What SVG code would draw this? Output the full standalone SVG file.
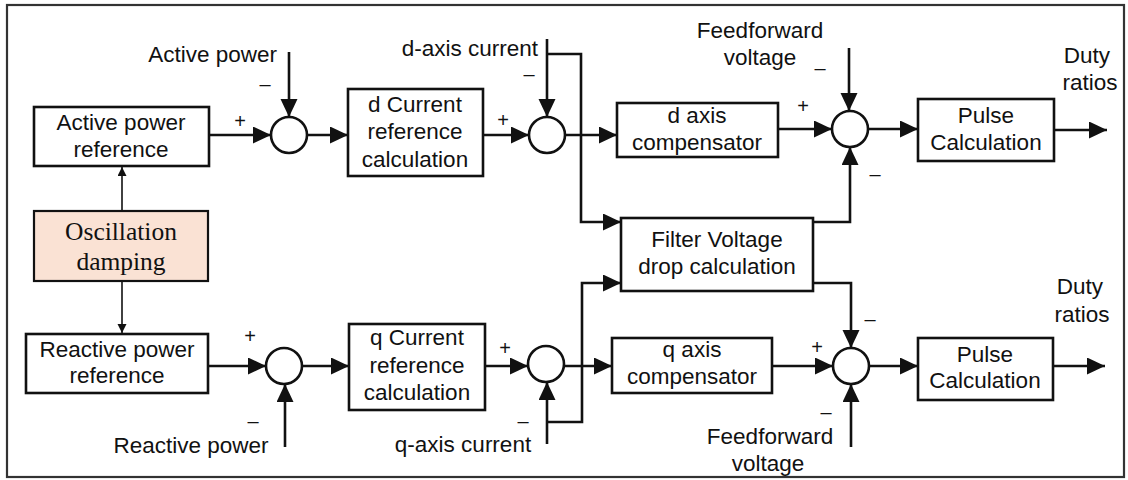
<svg xmlns="http://www.w3.org/2000/svg" width="1128" height="480" viewBox="0 0 1128 480">
<defs>
<style>
text{font-family:"Liberation Sans",Arial,sans-serif;font-size:22.5px;fill:#111;text-anchor:middle}
.ser{font-family:"Liberation Serif","Times New Roman",serif;font-size:25.5px}
.lbl{text-anchor:end}
.sg{font-size:20px}
.box{fill:#fff;stroke:#111;stroke-width:2.6}
.sum{fill:#fff;stroke:#111;stroke-width:2.6}
.w{fill:none;stroke:#111;stroke-width:2.6}
.t{fill:none;stroke:#111;stroke-width:1.6}
</style>
<marker id="ah" markerUnits="userSpaceOnUse" markerWidth="19" markerHeight="18" refX="18" refY="8.5" orient="auto"><path d="M0,0 L18,8.5 L0,17 z" fill="#111"/></marker>
<marker id="as" markerUnits="userSpaceOnUse" markerWidth="10" markerHeight="10" refX="9" refY="4.5" orient="auto"><path d="M0,0 L9,4.5 L0,9 z" fill="#111"/></marker>
</defs>
<rect x="7" y="5" width="1117" height="472" fill="#fff" stroke="#333" stroke-width="2.2"/>

<g id="connectors">
<line class="w" x1="209" y1="135" x2="271" y2="135" marker-end="url(#ah)"/>
<line class="w" x1="289" y1="52" x2="289" y2="117" marker-end="url(#ah)"/>
<line class="w" x1="307" y1="135" x2="348" y2="135" marker-end="url(#ah)"/>
<line class="w" x1="483" y1="135" x2="529" y2="135" marker-end="url(#ah)"/>
<line class="w" x1="547" y1="39" x2="547" y2="117" marker-end="url(#ah)"/>
<polyline class="w" points="547,54 581,54 581,222 621,222" marker-end="url(#ah)"/>
<line class="w" x1="565" y1="135" x2="617" y2="135" marker-end="url(#ah)"/>
<line class="w" x1="778" y1="129" x2="832" y2="129" marker-end="url(#ah)"/>
<line class="w" x1="849" y1="48" x2="849" y2="111" marker-end="url(#ah)"/>
<polyline class="w" points="813,222 850,222 850,147" marker-end="url(#ah)"/>
<line class="w" x1="868" y1="129" x2="918" y2="129" marker-end="url(#ah)"/>
<line class="w" x1="1054" y1="130" x2="1107" y2="130" marker-end="url(#ah)"/>
<line class="t" x1="122" y1="211" x2="122" y2="167" marker-end="url(#as)"/>
<line class="t" x1="122" y1="281" x2="122" y2="333" marker-end="url(#as)"/>
<line class="w" x1="208" y1="366" x2="266" y2="366" marker-end="url(#ah)"/>
<line class="w" x1="285" y1="447" x2="285" y2="384" marker-end="url(#ah)"/>
<line class="w" x1="302" y1="366" x2="349" y2="366" marker-end="url(#ah)"/>
<line class="w" x1="485" y1="366" x2="528" y2="366" marker-end="url(#ah)"/>
<line class="w" x1="547" y1="444" x2="547" y2="382" marker-end="url(#ah)"/>
<polyline class="w" points="547,422 582,422 582,283 621,283" marker-end="url(#ah)"/>
<line class="w" x1="564" y1="366" x2="612" y2="366" marker-end="url(#ah)"/>
<line class="w" x1="772" y1="366" x2="833" y2="366" marker-end="url(#ah)"/>
<polyline class="w" points="813,283 851,283 851,348" marker-end="url(#ah)"/>
<line class="w" x1="851" y1="447" x2="851" y2="384" marker-end="url(#ah)"/>
<line class="w" x1="869" y1="366" x2="918" y2="366" marker-end="url(#ah)"/>
<line class="w" x1="1053" y1="366" x2="1105" y2="366" marker-end="url(#ah)"/>
</g>

<g id="active-ref"><rect class="box" x="34" y="107" width="175" height="59"/><text x="121" y="130">Active power</text><text x="121" y="157">reference</text></g>
<g id="osc"><rect x="34" y="211" width="174" height="70" fill="#fae2d4" stroke="#111" stroke-width="2.2"/><text class="ser" x="121" y="240">Oscillation</text><text class="ser" x="121" y="270">damping</text></g>
<g id="reactive-ref"><rect class="box" x="26" y="334" width="182" height="59"/><text x="117" y="357">Reactive power</text><text x="117" y="383">reference</text></g>

<g id="sum-p"><circle class="sum" cx="289" cy="135" r="18"/><text class="sg" x="240" y="128">+</text><text class="sg" x="265" y="91">–</text></g>
<g id="sum-q"><circle class="sum" cx="284" cy="366" r="18"/><text class="sg" x="250" y="343">+</text><text class="sg" x="253" y="428">–</text></g>

<g id="d-cur"><rect class="box" x="348" y="89" width="135" height="87"/><text x="415" y="112">d Current</text><text x="415" y="139">reference</text><text x="415" y="167">calculation</text></g>
<g id="q-cur"><rect class="box" x="349" y="324" width="136" height="86"/><text x="417" y="345">q Current</text><text x="417" y="373">reference</text><text x="417" y="400">calculation</text></g>

<g id="sum-d"><circle class="sum" cx="547" cy="135" r="18"/><text class="sg" x="503" y="127">+</text><text class="sg" x="529" y="81">–</text></g>
<g id="sum-qi"><circle class="sum" cx="546" cy="364" r="18"/><text class="sg" x="505" y="355">+</text><text class="sg" x="523" y="428">–</text></g>

<g id="d-comp"><rect class="box" x="617" y="103" width="161" height="54"/><text x="697" y="123">d axis</text><text x="697" y="150">compensator</text></g>
<g id="q-comp"><rect class="box" x="612" y="338" width="160" height="55"/><text x="692" y="357">q axis</text><text x="692" y="384">compensator</text></g>
<g id="filter"><rect class="box" x="621" y="218" width="192" height="73"/><text x="717" y="247">Filter Voltage</text><text x="717" y="274">drop calculation</text></g>

<g id="sum-vd"><circle class="sum" cx="850" cy="129" r="18"/><text class="sg" x="803" y="113">+</text><text class="sg" x="820" y="75">–</text><text class="sg" x="875" y="181">–</text></g>
<g id="sum-vq"><circle class="sum" cx="851" cy="366" r="18"/><text class="sg" x="817" y="354">+</text><text class="sg" x="870" y="326">–</text><text class="sg" x="826" y="419">–</text></g>

<g id="pulse-d"><rect class="box" x="918" y="99" width="136" height="62"/><text x="986" y="123">Pulse</text><text x="986" y="150">Calculation</text></g>
<g id="pulse-q"><rect class="box" x="918" y="338" width="135" height="62"/><text x="985" y="362">Pulse</text><text x="985" y="388">Calculation</text></g>

<g id="labels">
<text class="lbl" x="277" y="62">Active power</text>
<text class="lbl" x="538" y="56">d-axis current</text>
<text x="760" y="38">Feedforward</text><text x="760" y="65">voltage</text>
<text x="1087" y="63">Duty</text><text x="1090" y="90">ratios</text>
<text x="1080" y="294">Duty</text><text x="1082" y="322">ratios</text>
<text x="191" y="453">Reactive power</text>
<text x="463" y="452">q-axis current</text>
<text x="770" y="444">Feedforward</text><text x="768" y="471">voltage</text>
</g>
</svg>
